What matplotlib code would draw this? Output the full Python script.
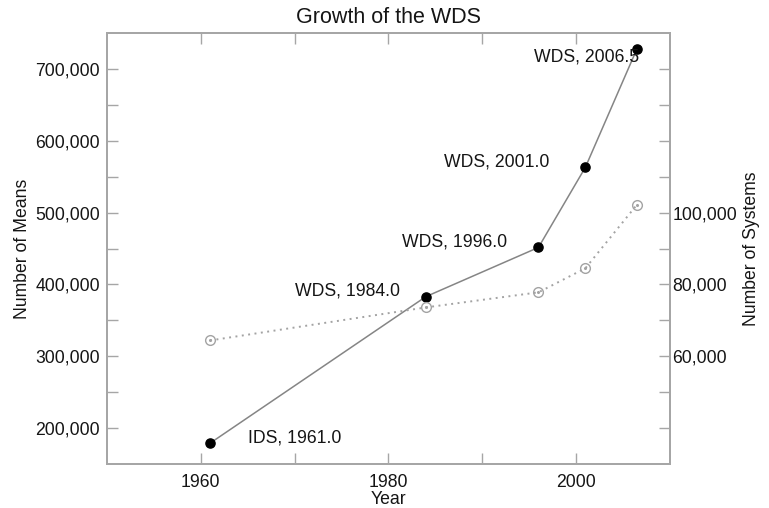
"""Growth of the WDS: number of means (left) and number of systems (right)."""

import matplotlib

matplotlib.use("Agg")
import matplotlib.pyplot as plt
from matplotlib.ticker import FuncFormatter

plt.rcParams["font.family"] = ["Liberation Sans", "DejaVu Sans"]

# data
years = [1961.0, 1984.0, 1996.0, 2001.0, 2006.5]
catalogs = ["IDS", "WDS", "WDS", "WDS", "WDS"]
n_means = [179000, 383000, 451500, 563000, 728000]
n_systems = [64400, 73600, 77800, 84500, 102200]

# label offsets in pixels (dx, dy) and alignment
label_offsets = [(38, 5), (-26, 6), (-31, 5), (-36, 5), (2, -8)]
label_ha = ["left", "right", "right", "right", "right"]

TEXT = "#151515"
FRAME = "#a6a6a6"
FS = 12.7

fig = plt.figure(figsize=(7.69, 5.08), dpi=100)
ax = fig.add_axes([0.139, 0.0866, 0.732, 0.8484])
ax2 = ax.twinx()

ax.plot(years, n_means, color="#858585", lw=1.1, marker="o", ms=6.6,
        mfc="black", mec="black", zorder=3)
ax2.plot(years, n_systems, color="#a3a3a3", lw=1.4, ls=(0, (1, 2.3)),
         marker="o", ms=7, mfc="none", mec="#a3a3a3", mew=1.0)
ax2.plot(years, n_systems, ls="none", marker="o", ms=1.2, color="#a3a3a3")

for yr, cat, val, (dx, dy), ha in zip(years, catalogs, n_means, label_offsets, label_ha):
    ax.annotate(f"{cat}, {yr:.1f}", (yr, val), xytext=(dx, dy),
                textcoords="offset pixels", ha=ha, va="center",
                fontsize=FS, color=TEXT)

ax.set_xlim(1950, 2010)
ax.set_ylim(150000, 750000)
ax2.set_ylim(30000, 150000)

ax.set_xticks([1960, 1980, 2000])
ax.set_xticks([1970, 1990], minor=True)
ax.set_yticks([200000, 300000, 400000, 500000, 600000, 700000])
ax.set_yticks([250000, 350000, 450000, 550000, 650000], minor=True)
ax2.set_yticks([60000, 80000, 100000])
ax2.set_yticks([40000, 50000, 70000, 90000, 110000, 120000, 130000, 140000], minor=True)

fmt = FuncFormatter(lambda v, _: f"{v:,.0f}")
ax.yaxis.set_major_formatter(fmt)
ax2.yaxis.set_major_formatter(fmt)

for a in (ax, ax2):
    for s in a.spines.values():
        s.set_color(FRAME)
        s.set_linewidth(1.3)
    a.tick_params(which="both", direction="in", length=8, width=1.0,
                  color=FRAME, labelsize=FS, labelcolor=TEXT)
ax.tick_params(axis="x", which="both", top=True, pad=7)
ax.tick_params(axis="y", which="both", left=True, right=False, pad=5)
ax2.tick_params(axis="y", which="both", pad=2)

ax.set_title("Growth of the WDS", fontsize=15.5, color=TEXT, pad=7)
ax.set_xlabel("Year", fontsize=FS, color=TEXT, labelpad=0)
ax.set_ylabel("Number of Means", fontsize=FS, color=TEXT, labelpad=3)
ax2.set_ylabel("Number of Systems", fontsize=FS, color=TEXT, labelpad=4)

fig.savefig("out.png", dpi=100)
plt.close(fig)
